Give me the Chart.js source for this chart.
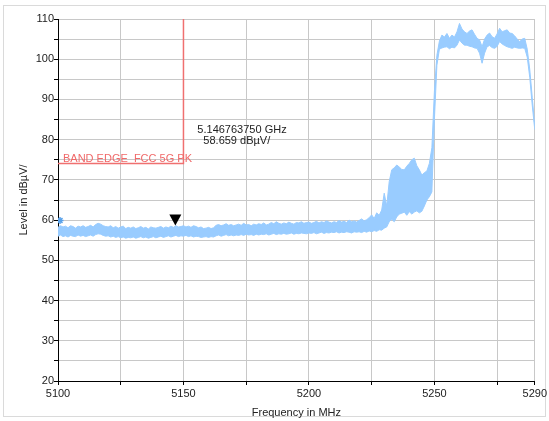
<!DOCTYPE html>
<html>
<head>
<meta charset="utf-8">
<script src="https://cdn.jsdelivr.net/npm/chart.js@4.4.1/dist/chart.umd.min.js"></script>
<style>
  body { margin: 0; background: #fff; }
  canvas { display: block; }
</style>
</head>
<body>
<canvas id="chart" width="549" height="421"></canvas>
<script>
// sweep starts at 5100 MHz, one sample per MHz up to 5290
const startFreq = 5100;

// top edge of the noise band, dBµV/
const upperLevel = [
  58.2, 58.6, 58.3, 58.5, 58.1, 58.6, 58.4, 58.0, 58.5, 58.3,
  58.6, 58.2, 58.4, 58.7, 58.3, 58.9, 59.2, 59.0, 58.6, 58.4,
  58.3, 58.6, 58.1, 58.4, 58.0, 58.3, 58.5, 57.9, 58.2, 58.0,
  58.3, 57.9, 58.1, 58.4, 58.0, 58.2, 57.8, 58.3, 58.1, 58.0,
  58.2, 58.4, 58.0, 58.3, 58.1, 58.5, 58.2, 58.6, 58.3, 58.4,
  58.6, 58.3, 58.5, 58.2, 58.6, 58.4, 58.1, 58.3, 57.9, 58.0,
  58.2, 57.9, 58.1, 58.7, 58.9, 58.6, 58.8, 59.1, 58.7, 58.9,
  58.6, 58.8, 59.0, 58.7, 59.2, 58.8, 58.9, 58.6, 59.0, 58.8,
  59.1, 58.9, 59.3, 58.8, 59.0, 59.4, 59.1, 59.6, 59.2, 59.0,
  59.3, 59.1, 59.5, 59.2, 59.0, 59.4, 59.3, 59.6, 59.2, 59.4,
  59.5, 59.2, 59.4, 59.7, 59.3, 59.6, 59.4, 59.8, 59.5, 59.3,
  59.6, 59.4, 59.9, 59.5, 59.7, 59.4, 60.0, 59.6, 59.8, 59.5,
  59.9, 60.3, 59.8, 60.1, 60.6, 61.3, 60.4, 61.8, 61.2, 62.5,
  66.7, 63.5, 69.6, 72.5, 73.0, 73.7, 73.2, 72.6, 72.5, 73.4,
  74.1, 75.0, 75.4, 73.5, 72.5, 71.2, 71.8, 72.2, 74.1, 78.0,
  92.0, 101.0, 104.5, 106.0, 105.5, 106.4, 105.2, 106.0, 105.5, 106.8,
  108.9, 107.5, 106.8, 106.4, 107.0, 107.3, 106.2, 105.2, 104.8, 103.1,
  105.0, 106.0, 106.5, 105.6, 105.2, 106.3, 107.7, 106.8, 107.1, 107.3,
  106.5, 106.4, 105.8, 105.0, 104.4, 105.0, 105.2, 102.5, 97.5, 90.5,
  83.5
];

// bottom edge of the noise band, dBµV/
const lowerLevel = [
  56.0, 56.3, 55.9, 56.1, 55.8, 56.2, 56.0, 55.9, 56.3, 56.0,
  56.2, 55.9, 56.1, 56.3, 56.0, 56.4, 56.6, 56.5, 56.2, 56.0,
  56.1, 55.8, 56.0, 55.7, 55.9, 55.6, 55.8, 55.5, 55.7, 55.6,
  55.8, 55.5, 55.7, 55.9, 55.6, 55.8, 55.5, 55.7, 55.9, 55.6,
  55.8, 56.0, 55.7, 55.9, 56.1, 55.8, 56.0, 56.2, 55.9, 56.1,
  56.0, 56.2, 55.9, 56.1, 55.8, 56.0, 55.9, 55.7, 55.8, 55.9,
  55.7, 55.9, 55.8, 56.1, 56.3, 56.0, 56.2, 56.4, 56.1, 56.3,
  56.1, 56.3, 56.2, 56.4, 56.2, 56.5, 56.3, 56.4, 56.2, 56.5,
  56.3, 56.5, 56.4, 56.6, 56.3, 56.5, 56.7, 56.4, 56.6, 56.5,
  56.7, 56.5, 56.6, 56.8, 56.5, 56.7, 56.6, 56.8, 56.7, 56.6,
  56.8, 56.7, 56.9, 56.6, 56.8, 57.0, 56.7, 56.9, 56.8, 57.0,
  56.9, 57.1, 56.8, 57.0, 56.9, 57.1, 57.0, 56.8, 57.1, 57.0,
  57.1, 56.9, 57.2, 57.0, 57.3, 57.1, 57.4, 57.2, 57.6, 57.5,
  58.0, 58.3, 59.6, 60.2, 59.6, 60.8, 61.5, 61.7, 62.0, 61.2,
  62.1, 61.5, 62.0, 62.3, 61.8, 62.2, 63.5, 65.0, 65.8, 67.0,
  85.0, 98.5, 102.5, 102.8, 103.0, 103.1, 102.6, 103.0, 102.8, 103.5,
  104.8, 104.0, 103.5, 103.5, 103.2, 103.1, 102.8, 102.7, 101.5, 99.0,
  101.5, 103.1, 103.4, 102.9, 102.7, 103.2, 104.4, 103.8, 103.4, 103.1,
  102.9, 102.7, 103.0, 102.8, 102.7, 102.8, 102.7, 100.5, 95.5, 88.5,
  82.5
];

const xTicks = [5100, 5125, 5150, 5175, 5200, 5225, 5250, 5275, 5290];
const xLabels = [5100, 5150, 5200, 5250, 5290];
const yTicks = [20, 25, 30, 35, 40, 45, 50, 55, 60, 65, 70, 75, 80, 85, 90, 95, 100, 105, 110];
const yLabels = [20, 30, 40, 50, 60, 70, 80, 90, 100, 110];

// band edge limit
const limitFreq = 5150;
const limitLevel = 74.1;
const limitLabel = 'BAND EDGE  FCC 5G PK';

// marker
const markerFreq = 5146.76375;
const markerLevel = 58.659;
const markerText = ['5.146763750 GHz', '58.659 dBµV/'];

// little star at the start of the trace
const startPoint = {x: 5100.8, y: 59.9};

const blue = 'rgb(153, 204, 255)';
const red = '#f07070';
const fontFamily = '"Liberation Sans", Arial, sans-serif';

const trace = (arr) => arr.map((v, i) => ({x: startFreq + i, y: v}));

const framePlugin = {
  id: 'frame',
  beforeDraw(chart) {
    const c = chart.ctx;
    c.save();
    c.fillStyle = '#fff';
    c.fillRect(0, 0, chart.width, chart.height);
    c.strokeStyle = '#dadada';
    c.lineWidth = 1;
    c.strokeRect(3.5, 5.5, 542, 411);
    c.restore();
  }
};

const notesPlugin = {
  id: 'notes',
  afterDatasetsDraw(chart) {
    const c = chart.ctx;
    const xs = chart.scales.x, ys = chart.scales.y;
    c.save();
    c.font = '11px ' + fontFamily;

    // limit label
    c.fillStyle = '#f06868';
    c.textAlign = 'left';
    c.textBaseline = 'alphabetic';
    c.fillText(limitLabel, xs.getPixelForValue(startFreq) + 5, ys.getPixelForValue(limitLevel) - 1.5);

    // marker triangle, tip on the marker value
    const mx = xs.getPixelForValue(markerFreq);
    const my = ys.getPixelForValue(markerLevel);
    c.fillStyle = '#000';
    c.beginPath();
    c.moveTo(mx, my);
    c.lineTo(mx - 6, my - 11);
    c.lineTo(mx + 6, my - 11);
    c.closePath();
    c.fill();

    // marker readout
    c.fillStyle = '#222';
    const top = chart.chartArea.top;
    c.fillText(markerText[0], mx + 22, top + 113.5);
    c.fillText(markerText[1], mx + 28, top + 124.5);
    c.restore();
  }
};

new Chart(document.getElementById('chart').getContext('2d'), {
  type: 'line',
  data: {
    datasets: [
      {data: trace(lowerLevel), borderColor: blue, borderWidth: 1, pointRadius: 0, fill: false},
      {data: trace(upperLevel), borderColor: blue, backgroundColor: blue, borderWidth: 1, pointRadius: 0, fill: '-1'},
      {
        data: [{x: startFreq, y: limitLevel}, {x: limitFreq, y: limitLevel}, {x: limitFreq, y: 110}],
        borderColor: red, borderWidth: 1.5, pointRadius: 0, fill: false
      },
      {
        data: [startPoint], showLine: false, pointStyle: 'star', pointRadius: 3.5,
        borderColor: '#5aa2ea', backgroundColor: '#5aa2ea', borderWidth: 1.5
      }
    ]
  },
  options: {
    responsive: false,
    animation: false,
    events: [],
    layout: {padding: {top: 19, right: 13, left: 0, bottom: 0}},
    plugins: {legend: {display: false}, tooltip: {enabled: false}},
    scales: {
      x: {
        type: 'linear',
        min: 5100,
        max: 5290,
        afterBuildTicks: (s) => { s.ticks = xTicks.map(v => ({value: v})); },
        afterFit: (s) => { s.height = 40; },
        ticks: {
          autoSkip: false, maxRotation: 0, padding: 2, color: '#222',
          font: {size: 11, family: fontFamily},
          callback: (v) => xLabels.includes(v) ? String(v) : ''
        },
        grid: {color: '#c8c8c8', tickColor: '#000', tickLength: 4},
        border: {color: '#000', width: 1},
        title: {
          display: true, text: 'Frequency in MHz', color: '#222',
          font: {size: 11, family: fontFamily}, padding: {top: 2, bottom: 1}
        }
      },
      y: {
        min: 20,
        max: 110,
        afterBuildTicks: (s) => { s.ticks = yTicks.map(v => ({value: v})); },
        afterFit: (s) => { s.width = 58; },
        ticks: {
          autoSkip: false, padding: 0, color: '#222',
          font: {size: 11, family: fontFamily},
          callback: (v) => yLabels.includes(v) ? String(v) : ''
        },
        grid: {color: '#c8c8c8', tickColor: '#000', tickLength: 4},
        border: {color: '#000', width: 1},
        title: {
          display: true, text: 'Level in dBµV/', color: '#222',
          font: {size: 11, family: fontFamily}, padding: {top: 17, bottom: 0}
        }
      }
    }
  },
  plugins: [framePlugin, notesPlugin]
});
</script>
</body>
</html>
